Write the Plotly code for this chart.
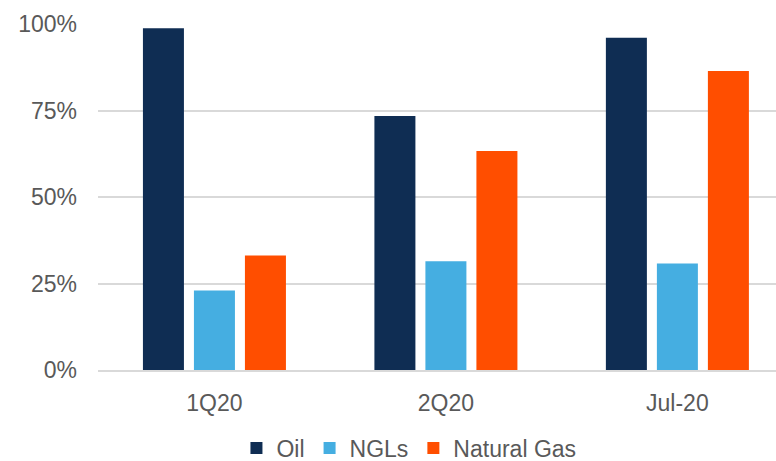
import plotly.graph_objects as go

categories = ["1Q20", "2Q20", "Jul-20"]
oil = [98.8, 73.4, 96.0]
ngls = [23.0, 31.4, 30.8]
gas = [33.1, 63.3, 86.4]
series_names = ["Oil", "NGLs", "Natural Gas"]
colors = ["#0F2D53", "#45AEE1", "#FF4E00"]

fig = go.Figure()
for name, vals, c in zip(series_names, [oil, ngls, gas], colors):
    fig.add_trace(go.Bar(name=name, x=categories, y=vals, marker_color=c,
                         marker_line_width=0))

fig.update_layout(
    width=776, height=461,
    margin=dict(l=98, r=0, t=24, b=91, autoexpand=False),
    paper_bgcolor="white", plot_bgcolor="white",
    barmode="group", bargap=0.339, bargroupgap=0.196,
    font=dict(family="Liberation Sans, Arial, sans-serif", size=23, color="#595959"),
    legend=dict(orientation="h", x=0.527, xref="container", xanchor="center",
                yref="container", y=0.028, yanchor="middle",
                font=dict(size=23, color="#595959"), itemwidth=30,
                traceorder="normal"),
    yaxis=dict(range=[0, 100], tickvals=[0, 25, 50, 75, 100],
               ticktext=["0%", "25%", "50%", "75%", "100%"],
               showgrid=True, gridcolor="#D9D9D9", gridwidth=1.5,
               zeroline=False, showline=False, ticks="", ticklen=0,
               ticklabelstandoff=20),
    xaxis=dict(range=[-0.503, 2.426], showline=True, linecolor="#D9D9D9",
               linewidth=1.5, ticks="", showgrid=False, ticklabelstandoff=12),
)

fig.write_html("out.html")
